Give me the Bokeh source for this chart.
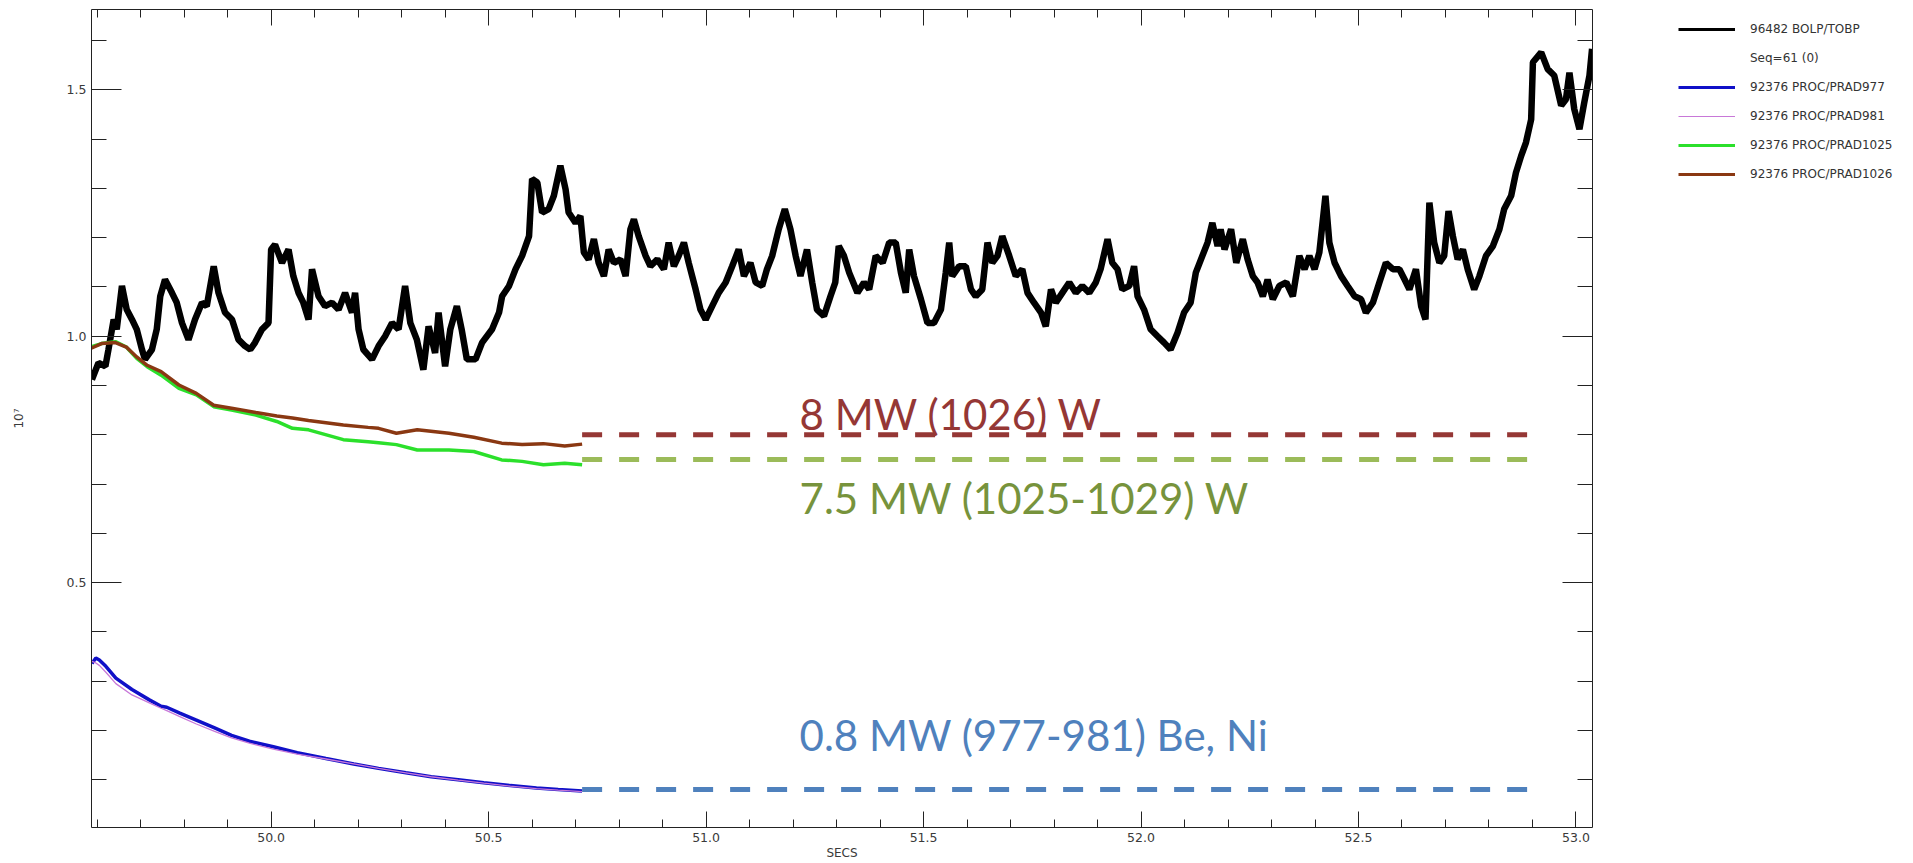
from bokeh.plotting import figure
from bokeh.layouts import row
from bokeh.models import (Range1d, LinearAxis, FixedTicker, NumeralTickFormatter,
                          Legend, LegendItem, ColumnDataSource)
from bokeh.core.properties import value
from bokeh.embed import file_html
from bokeh.resources import INLINE

# ---- bolometer total radiated power, 96482 BOLP/TOBP (units of 1e7 W) ----
bolp_t = [
    49.588, 49.603, 49.619, 49.626, 49.638, 49.645, 49.657, 49.668, 49.680, 49.691,
    49.703, 49.710, 49.726, 49.737, 49.745, 49.756, 49.772, 49.783, 49.795, 49.810,
    49.825, 49.841, 49.852, 49.868, 49.879, 49.894, 49.910, 49.925, 49.940, 49.952,
    49.963, 49.979, 49.994, 50.000, 50.009, 50.025, 50.040, 50.051, 50.063, 50.074,
    50.086, 50.094, 50.109, 50.124, 50.140, 50.155, 50.170, 50.186, 50.193, 50.201,
    50.212, 50.232, 50.247, 50.262, 50.278, 50.293, 50.308, 50.320, 50.335, 50.350,
    50.362, 50.377, 50.385, 50.400, 50.412, 50.427, 50.438, 50.450, 50.470, 50.485,
    50.508, 50.524, 50.531, 50.547, 50.562, 50.577, 50.593, 50.600, 50.612, 50.623,
    50.638, 50.650, 50.665, 50.677, 50.684, 50.700, 50.711, 50.719, 50.730, 50.742,
    50.753, 50.765, 50.776, 50.788, 50.803, 50.815, 50.826, 50.834, 50.845, 50.861,
    50.872, 50.888, 50.903, 50.914, 50.926, 50.937, 50.949, 50.960, 50.976, 50.987,
    50.999, 51.014, 51.029, 51.045, 51.060, 51.075, 51.087, 51.102, 51.114, 51.129,
    51.140, 51.152, 51.167, 51.181, 51.194, 51.206, 51.217, 51.232, 51.244, 51.255,
    51.271, 51.286, 51.297, 51.305, 51.317, 51.329, 51.348, 51.363, 51.375, 51.390,
    51.406, 51.421, 51.436, 51.448, 51.459, 51.467, 51.478, 51.494, 51.509, 51.524,
    51.540, 51.551, 51.559, 51.566, 51.582, 51.597, 51.609, 51.620, 51.635, 51.647,
    51.658, 51.670, 51.681, 51.697, 51.712, 51.727, 51.739, 51.754, 51.770, 51.781,
    51.793, 51.804, 51.819, 51.835, 51.850, 51.865, 51.881, 51.896, 51.907, 51.923,
    51.934, 51.946, 51.957, 51.973, 51.984, 51.992, 52.007, 52.022, 52.038, 52.053,
    52.068, 52.084, 52.099, 52.114, 52.126, 52.141, 52.153, 52.164, 52.176, 52.183,
    52.192, 52.207, 52.219, 52.234, 52.245, 52.257, 52.268, 52.280, 52.291, 52.303,
    52.318, 52.334, 52.349, 52.364, 52.376, 52.387, 52.399, 52.410, 52.424, 52.433,
    52.445, 52.460, 52.475, 52.491, 52.506, 52.517, 52.533, 52.548, 52.563, 52.579,
    52.594, 52.606, 52.617, 52.632, 52.644, 52.654, 52.663, 52.674, 52.686, 52.697,
    52.707, 52.717, 52.728, 52.740, 52.751, 52.766, 52.778, 52.793, 52.809, 52.824,
    52.835, 52.851, 52.862, 52.874, 52.885, 52.897, 52.901, 52.920, 52.935, 52.950,
    52.966, 52.977, 52.985, 52.996, 53.008, 53.019, 53.031, 53.037,
]
bolp_v = [
    0.912, 0.946, 0.939, 0.973, 1.034, 1.014, 1.102, 1.054, 1.034, 1.014,
    0.973, 0.953, 0.973, 1.014, 1.081, 1.115, 1.088, 1.068, 1.027, 0.993,
    1.034, 1.068, 1.061, 1.142, 1.088, 1.048, 1.034, 0.993, 0.980, 0.973,
    0.987, 1.014, 1.027, 1.176, 1.186, 1.149, 1.176, 1.122, 1.088, 1.068,
    1.034, 1.136, 1.081, 1.061, 1.068, 1.054, 1.088, 1.048, 1.088, 1.014,
    0.973, 0.953, 0.980, 1.000, 1.027, 1.014, 1.102, 1.027, 0.993, 0.932,
    1.020, 0.966, 1.048, 0.939, 1.014, 1.061, 1.014, 0.953, 0.953, 0.987,
    1.014, 1.048, 1.081, 1.102, 1.136, 1.163, 1.203, 1.319, 1.312, 1.251,
    1.258, 1.285, 1.346, 1.298, 1.251, 1.230, 1.244, 1.170, 1.156, 1.197,
    1.149, 1.122, 1.176, 1.149, 1.156, 1.122, 1.217, 1.237, 1.203, 1.163,
    1.142, 1.156, 1.136, 1.190, 1.142, 1.163, 1.190, 1.149, 1.095, 1.054,
    1.034, 1.061, 1.088, 1.109, 1.142, 1.176, 1.122, 1.149, 1.109, 1.102,
    1.136, 1.163, 1.217, 1.258, 1.217, 1.163, 1.122, 1.176, 1.109, 1.054,
    1.041, 1.081, 1.109, 1.183, 1.163, 1.129, 1.088, 1.109, 1.095, 1.163,
    1.149, 1.190, 1.190, 1.129, 1.088, 1.176, 1.122, 1.075, 1.027, 1.027,
    1.054, 1.129, 1.190, 1.122, 1.142, 1.142, 1.095, 1.081, 1.095, 1.190,
    1.149, 1.163, 1.203, 1.163, 1.122, 1.136, 1.088, 1.068, 1.048, 1.020,
    1.095, 1.068, 1.088, 1.109, 1.088, 1.102, 1.088, 1.109, 1.136, 1.197,
    1.149, 1.136, 1.095, 1.102, 1.142, 1.081, 1.054, 1.014, 1.000, 0.987,
    0.973, 1.007, 1.048, 1.068, 1.129, 1.163, 1.190, 1.230, 1.183, 1.217,
    1.176, 1.217, 1.149, 1.197, 1.156, 1.122, 1.109, 1.081, 1.115, 1.075,
    1.102, 1.109, 1.081, 1.163, 1.136, 1.163, 1.136, 1.170, 1.285, 1.190,
    1.149, 1.122, 1.102, 1.081, 1.075, 1.048, 1.068, 1.109, 1.149, 1.136,
    1.136, 1.115, 1.095, 1.136, 1.061, 1.034, 1.271, 1.190, 1.149, 1.163,
    1.254, 1.203, 1.156, 1.176, 1.136, 1.095, 1.122, 1.163, 1.183, 1.217,
    1.258, 1.285, 1.332, 1.366, 1.393, 1.440, 1.556, 1.576, 1.542, 1.529,
    1.468, 1.481, 1.535, 1.461, 1.420, 1.474, 1.529, 1.583,
]

# ---- 92376 PROC/PRAD1025 and PRAD1026 ----
prad_hi_t = [49.585, 49.610, 49.642, 49.667, 49.691, 49.715, 49.747, 49.788, 49.828,
             49.868, 49.909, 49.965, 50.013, 50.049, 50.086, 50.166, 50.223, 50.247,
             50.288, 50.336, 50.409, 50.466, 50.530, 50.577, 50.626, 50.675, 50.715]
prad1025_v = [0.978, 0.985, 0.989, 0.978, 0.955, 0.938, 0.921, 0.894, 0.881,
              0.857, 0.850, 0.840, 0.827, 0.813, 0.810, 0.790, 0.786, 0.784,
              0.780, 0.769, 0.769, 0.766, 0.749, 0.746, 0.739, 0.742, 0.739]
prad1026_v = [0.975, 0.985, 0.987, 0.978, 0.958, 0.941, 0.928, 0.901, 0.884,
              0.860, 0.854, 0.845, 0.838, 0.834, 0.829, 0.820, 0.815, 0.813,
              0.803, 0.810, 0.803, 0.795, 0.783, 0.780, 0.782, 0.777, 0.781]

# ---- 92376 PROC/PRAD977 and PRAD981 ----
prad_lo_t = [49.588, 49.597, 49.605, 49.620, 49.643, 49.680, 49.720, 49.747, 49.760,
             49.790, 49.828, 49.870, 49.909, 49.950, 50.005, 50.060, 50.126, 50.190,
             50.247, 50.310, 50.368, 50.430, 50.489, 50.550, 50.610, 50.660, 50.715]
prad977_v = [0.336, 0.347, 0.343, 0.330, 0.306, 0.283, 0.262, 0.249, 0.247,
             0.235, 0.221, 0.205, 0.190, 0.178, 0.167, 0.155, 0.143, 0.132,
             0.123, 0.114, 0.106, 0.100, 0.094, 0.088, 0.083, 0.080, 0.077]
prad981_v = [0.340, 0.337, 0.332, 0.318, 0.295, 0.272, 0.256, 0.245, 0.240,
             0.228, 0.213, 0.198, 0.185, 0.174, 0.162, 0.152, 0.142, 0.132,
             0.123, 0.114, 0.106, 0.099, 0.093, 0.087, 0.082, 0.079, 0.076]

# ---- steady-state radiated power estimates (MW) ----
level_mw = [8.0, 7.5, 0.8]
level_text = ["8 MW (1026) W", "7.5 MW (1025-1029) W", "0.8 MW (977-981) Be, Ni"]

legend_labels = ["96482 BOLP/TOBP", "Seq=61 (0)", "92376 PROC/PRAD977",
                 "92376 PROC/PRAD981", "92376 PROC/PRAD1025", "92376 PROC/PRAD1026"]

x_major = [50.0, 50.5, 51.0, 51.5, 52.0, 52.5, 53.0]
x_minor = [round(49.6 + 0.1 * i, 1) for i in range(35)]
y_major = [0.5, 1.0, 1.5]
y_minor = [round(0.1 * i, 1) for i in range(1, 17)]

AXIS_FONT = "DejaVu Sans"
INK = "#222222"

C_BOLP = "black"
C_977 = "#1010c8"
C_981 = "#c878d8"
C_1025 = "#2be02b"
C_1026 = "#8a3812"

p = figure(width=1600, height=863, output_backend="svg", toolbar_location=None,
           x_range=Range1d(49.587, 53.038), y_range=Range1d(0.003, 1.663),
           min_border_left=91, min_border_right=8, min_border_top=9,
           min_border_bottom=36, x_axis_label="SECS", y_axis_label="10\u2077")
p.grid.visible = False
p.outline_line_color = None


def style_axis(ax, tick_len, show_labels):
    ax.axis_line_color = INK
    ax.major_tick_line_color = INK
    ax.minor_tick_line_color = INK
    ax.major_tick_in = tick_len
    ax.major_tick_out = 0
    ax.minor_tick_in = tick_len // 2
    ax.minor_tick_out = 0
    ax.major_label_text_font = AXIS_FONT
    ax.axis_label_text_font = AXIS_FONT
    ax.axis_label_text_font_style = "normal"
    ax.axis_label_text_color = "#3a3a3a"
    if show_labels:
        ax.major_label_text_color = "#3a3a3a"
        ax.major_label_text_font_size = "12.5px"
        ax.axis_label_text_font_size = "12px"
    else:
        # tick marks only: no label text is drawn on the mirrored axes
        ax.major_label_text_color = None
        ax.major_label_text_font_size = "1px"
        ax.major_label_standoff = 0


xticker = FixedTicker(ticks=x_major, minor_ticks=x_minor)
yticker = FixedTicker(ticks=y_major, minor_ticks=y_minor)

bx = p.xaxis[0]
bx.ticker = xticker
bx.formatter = NumeralTickFormatter(format="0.0")
style_axis(bx, 16, True)
bx.major_label_standoff = 5
bx.axis_label_standoff = 1

ly = p.yaxis[0]
ly.ticker = yticker
ly.formatter = NumeralTickFormatter(format="0.0")
style_axis(ly, 30, True)
ly.major_label_standoff = 5
ly.axis_label_standoff = 38

tx = LinearAxis(ticker=xticker)
style_axis(tx, 16, False)
p.add_layout(tx, "above")

ry = LinearAxis(ticker=yticker)
style_axis(ry, 30, False)
p.add_layout(ry, "right")

# measured traces
p.line(bolp_t, bolp_v, color=C_BOLP, line_width=6.5)
p.line(prad_hi_t, prad1025_v, color=C_1025, line_width=3.5)
p.line(prad_hi_t, prad1026_v, color=C_1026, line_width=3.5)
p.line(prad_lo_t, prad977_v, color=C_977, line_width=3.5)
p.line(prad_lo_t, prad981_v, color=C_981, line_width=1.3)

# dashed steady-state levels (1e7 W = 10 MW) and their captions
dash_colors = ["#953735", "#9bbb59", "#4f81bd"]
text_colors = ["#953735", "#77933c", "#4f81bd"]
t_end = prad_hi_t[-1]
for mw, col in zip(level_mw, dash_colors):
    p.line([t_end, 52.909], [mw / 10.0, mw / 10.0], color=col, line_width=5,
           line_dash="20 17")

caption_y = [0.842, 0.672, 0.190]
cap_src = ColumnDataSource(dict(x=[51.215] * 3, y=caption_y, text=level_text,
                                color=text_colors))
p.text(x="x", y="y", text="text", text_color="color", source=cap_src,
       text_font=value("Lato"), text_font_size="42px", text_baseline="alphabetic",
       text_align="left")

# legend panel to the right of the plot; the key renderers sit outside its
# visible range so only their legend swatches show
lg = figure(width=313, height=863, output_backend="svg", toolbar_location=None,
            x_axis_type=None, y_axis_type=None, x_range=Range1d(0, 1),
            y_range=Range1d(0, 1), min_border=0)
lg.outline_line_color = None
lg.grid.visible = False

leg_specs = [(C_BOLP, 3, 1.0), (C_BOLP, 1, 0.0), (C_977, 3, 1.0),
             (C_981, 1, 1.0), (C_1025, 3, 1.0), (C_1026, 3, 1.0)]
items = []
for label, (col, w, a) in zip(legend_labels, leg_specs):
    r = lg.line([5, 6], [5, 5], color=col, line_width=w, line_alpha=a)
    items.append(LegendItem(label=label, renderers=[r]))

legend = Legend(items=items, location=(78, 643), glyph_width=57, glyph_height=20,
                label_height=20, spacing=9, padding=0, margin=0, label_standoff=15,
                border_line_color=None, background_fill_alpha=0,
                label_text_font=AXIS_FONT, label_text_font_size="12px",
                label_text_color="#333333")
lg.add_layout(legend)

open("out.html", "w").write(file_html(row(p, lg), INLINE))
